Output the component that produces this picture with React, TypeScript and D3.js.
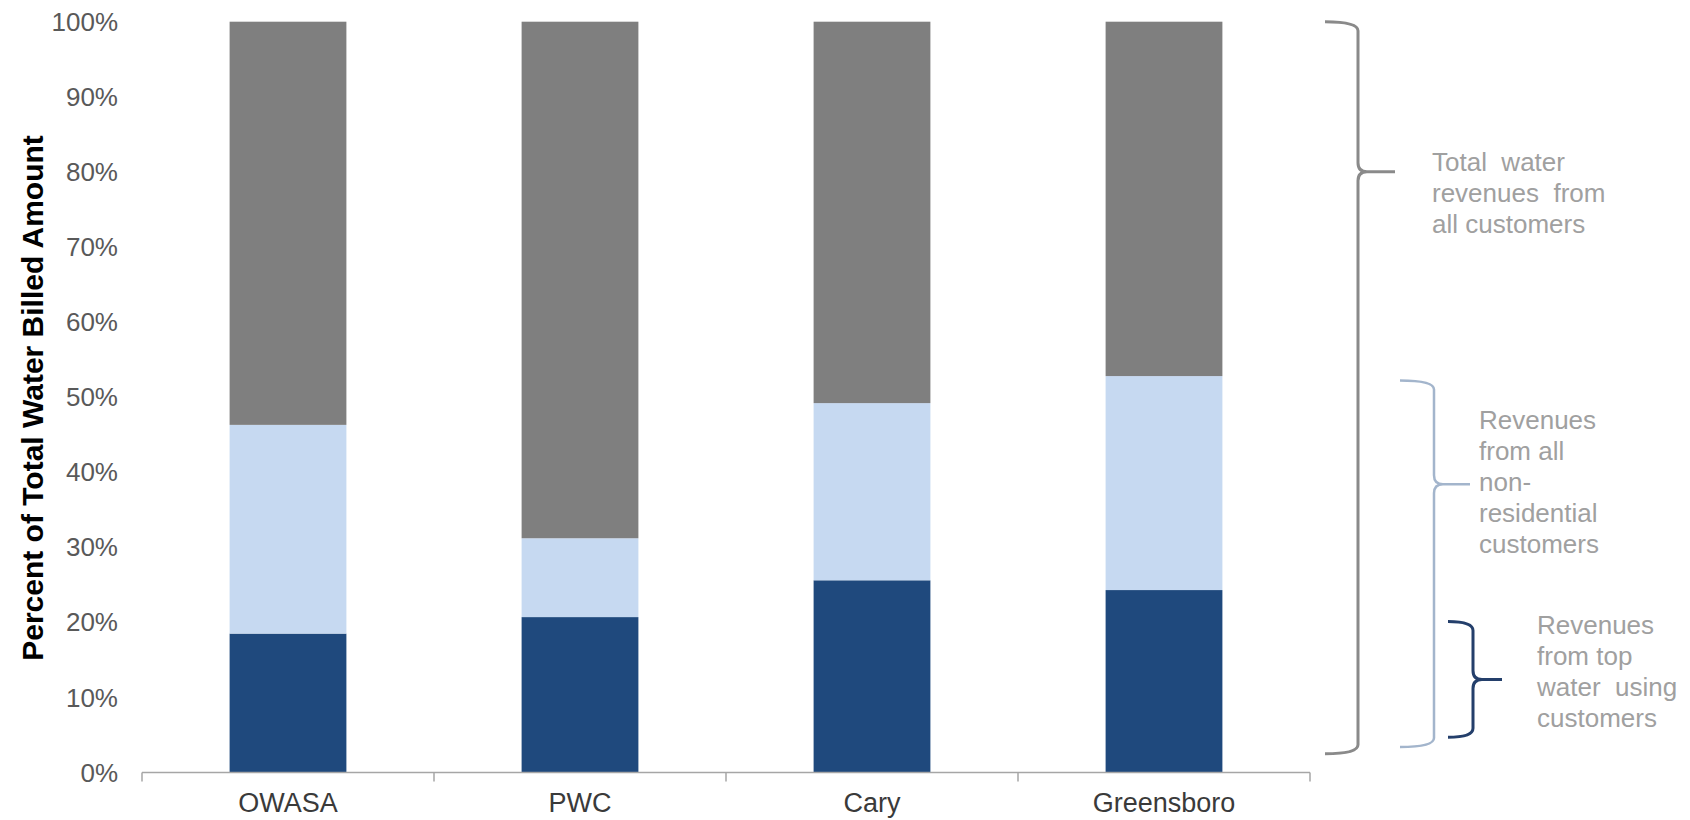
import React, { useEffect, useRef } from "react";
import * as d3 from "d3";

// categories and series (percent of total water billed amount)
const utilities = ["OWASA", "PWC", "Cary", "Greensboro"];
const topUsers = [18.5, 20.7, 25.6, 24.3];
const otherNonResidential = [27.8, 10.5, 23.6, 28.5];
const residential = [53.7, 68.8, 50.8, 47.2];
const yTickValues = [0, 10, 20, 30, 40, 50, 60, 70, 80, 90, 100];

const seriesKeys = ["top", "nonres", "res"];
const seriesColors: Record<string, string> = {
  top: "#1f497d",
  nonres: "#c6d9f1",
  res: "#7f7f7f",
};

const noteAll = ["Total  water", "revenues  from", "all customers"];
const noteNonRes = ["Revenues", "from all", "non-", "residential", "customers"];
const noteTop = ["Revenues", "from top", "water  using", "customers"];

const FONT = "'Liberation Sans', Arial, sans-serif";

export default function App() {
  const ref = useRef<SVGSVGElement | null>(null);

  useEffect(() => {
    const svg = d3.select(ref.current);
    svg.selectAll("*").remove();

    const x = d3
      .scaleBand()
      .domain(utilities)
      .range([142, 1310])
      .paddingInner(0.6)
      .paddingOuter(0.3);
    const y = d3.scaleLinear().domain([0, 100]).range([772.5, 21.7]);

    const rows = utilities.map((u, i) => ({
      name: u,
      top: topUsers[i],
      nonres: otherNonResidential[i],
      res: residential[i],
    }));
    const stacked = d3.stack<any>().keys(seriesKeys)(rows);

    // bars
    svg
      .append("g")
      .selectAll("g")
      .data(stacked)
      .enter()
      .append("g")
      .attr("fill", (d) => seriesColors[d.key])
      .selectAll("rect")
      .data((d) => d)
      .enter()
      .append("rect")
      .attr("x", (d: any) => x(d.data.name)!)
      .attr("width", x.bandwidth())
      .attr("y", (d) => y(Math.min(d[1], 100)))
      .attr("height", (d) => y(d[0]) - y(Math.min(d[1], 100)));

    // x axis line with ticks at band boundaries
    const step = x.step();
    const x0 = 142;
    svg
      .append("line")
      .attr("x1", x0)
      .attr("x2", x0 + step * utilities.length)
      .attr("y1", y(0))
      .attr("y2", y(0))
      .attr("stroke", "#a6a6a6")
      .attr("stroke-width", 1.5);
    svg
      .append("g")
      .selectAll("line")
      .data(d3.range(utilities.length + 1))
      .enter()
      .append("line")
      .attr("x1", (i) => x0 + i * step)
      .attr("x2", (i) => x0 + i * step)
      .attr("y1", y(0))
      .attr("y2", y(0) + 9)
      .attr("stroke", "#a6a6a6")
      .attr("stroke-width", 1.5);

    // x labels
    svg
      .append("g")
      .selectAll("text")
      .data(utilities)
      .enter()
      .append("text")
      .attr("x", (d) => x(d)! + x.bandwidth() / 2)
      .attr("y", 803)
      .attr("dy", "0.35em")
      .attr("text-anchor", "middle")
      .style("font-family", FONT)
      .style("font-size", "27px")
      .attr("fill", "#3a3a3a")
      .text((d) => d);

    // y labels
    svg
      .append("g")
      .selectAll("text")
      .data(yTickValues)
      .enter()
      .append("text")
      .attr("x", 118)
      .attr("y", (d) => y(d))
      .attr("dy", "0.35em")
      .attr("text-anchor", "end")
      .style("font-family", FONT)
      .style("font-size", "26px")
      .attr("fill", "#595959")
      .text((d) => d + "%");

    // y title
    svg
      .append("text")
      .attr("transform", "translate(32,398) rotate(-90)")
      .attr("dy", "0.35em")
      .attr("text-anchor", "middle")
      .style("font-family", FONT)
      .style("font-size", "30px")
      .style("font-weight", "bold")
      .attr("fill", "#000")
      .text("Percent of Total Water Billed Amount");

    // curly braces
    const brace = (
      xTail: number,
      xV: number,
      xTip: number,
      yTop: number,
      yTip: number,
      yBot: number,
      r: number
    ) =>
      `M${xTail},${yTop} Q${xV},${yTop} ${xV},${yTop + r} L${xV},${yTip - r} ` +
      `Q${xV},${yTip} ${xV + r},${yTip} L${xTip},${yTip} M${xV + r},${yTip} ` +
      `Q${xV},${yTip} ${xV},${yTip + r} L${xV},${yBot - r} Q${xV},${yBot} ${xTail},${yBot}`;

    const braces = [
      { tail: 1325, v: 1358, tip: 1395, top: 100, mid: 80, bot: 2.5, color: "#8a8a8a", w: 3 },
      { tail: 1400, v: 1434, tip: 1470, top: 52.2, mid: 38.4, bot: 3.4, color: "#a3b5cc", w: 2.5 },
      { tail: 1448, v: 1473, tip: 1502, top: 20.1, mid: 12.4, bot: 4.7, color: "#243f6b", w: 3 },
    ];
    svg
      .append("g")
      .selectAll("path")
      .data(braces)
      .enter()
      .append("path")
      .attr("d", (b) => brace(b.tail, b.v, b.tip, y(b.top), y(b.mid), y(b.bot), 9))
      .attr("fill", "none")
      .attr("stroke", (b) => b.color)
      .attr("stroke-width", (b) => b.w);

    // notes
    const notes = [
      { lines: noteAll, x: 1432, y0: 162 },
      { lines: noteNonRes, x: 1479, y0: 420 },
      { lines: noteTop, x: 1537, y0: 625 },
    ];
    notes.forEach((n) => {
      svg
        .append("g")
        .selectAll("text")
        .data(n.lines)
        .enter()
        .append("text")
        .attr("x", n.x)
        .attr("y", (d, i) => n.y0 + i * 31)
        .attr("dy", "0.35em")
        .style("font-family", FONT)
        .style("font-size", "26px")
        .style("white-space", "pre")
        .attr("fill", "#a0a0a0")
        .text((d) => d);
    });
  }, []);

  return (
    <svg
      ref={ref}
      width={1690}
      height={820}
      style={{ position: "absolute", left: 0, top: 0, background: "#fff" }}
    />
  );
}
